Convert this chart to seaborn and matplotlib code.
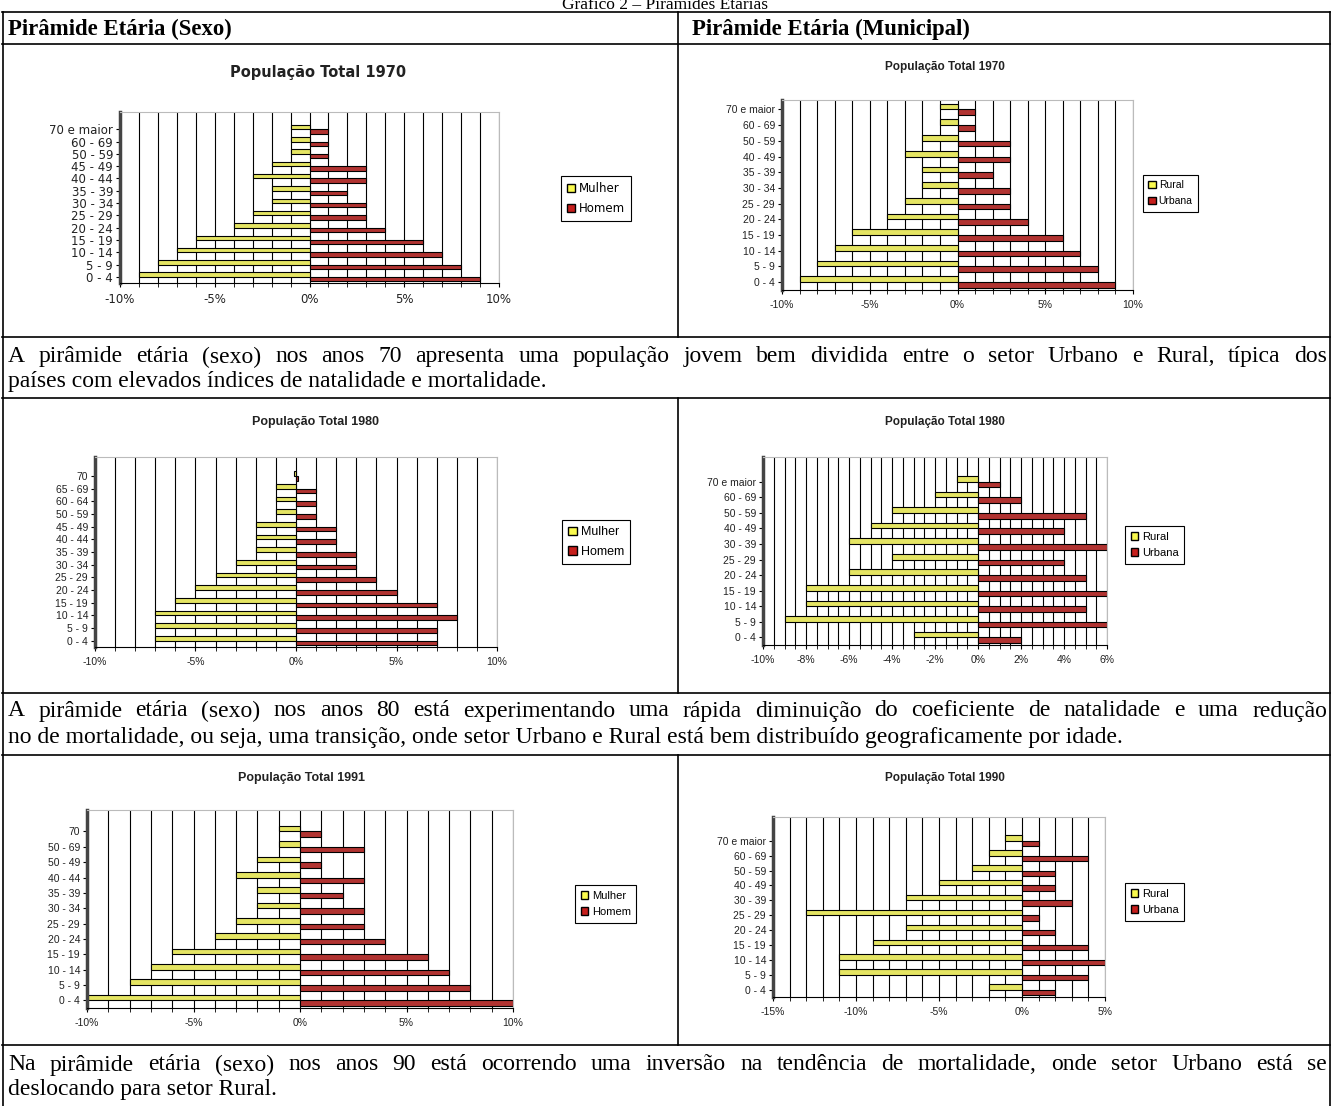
import numpy as np
import pandas as pd
import matplotlib
matplotlib.use('Agg')
import matplotlib.pyplot as plt
from matplotlib.patches import Patch
from matplotlib.lines import Line2D
import seaborn as sns

W, H = 1331, 1106

YELLOW = '#FAFA4E'
RED = '#C61F1C'

# ---- dados (de cima para baixo) ----
ages_sexo_70 = ['70 e maior', '60 - 69', '50 - 59', '45 - 49', '40 - 44', '35 - 39', '30 - 34',
                '25 - 29', '20 - 24', '15 - 19', '10 - 14', '5 - 9', '0 - 4']
mulher_70 = [-1, -1, -1, -2, -3, -2, -2, -3, -4, -6, -7, -8, -9]
homem_70 = [1, 1, 1, 3, 3, 2, 3, 3, 4, 6, 7, 8, 9]

ages_mun_70 = ['70 e maior', '60 - 69', '50 - 59', '40 - 49', '35 - 39', '30 - 34', '25 - 29',
               '20 - 24', '15 - 19', '10 - 14', '5 - 9', '0 - 4']
rural_70 = [-1, -1, -2, -3, -2, -2, -3, -4, -6, -7, -8, -9]
urbana_70 = [1, 1, 3, 3, 2, 3, 3, 4, 6, 7, 8, 9]

ages_sexo_80 = ['70', '65 - 69', '60 - 64', '50 - 59', '45 - 49', '40 - 44', '35 - 39', '30 - 34',
                '25 - 29', '20 - 24', '15 - 19', '10 - 14', '5 - 9', '0 - 4']
mulher_80 = [-0.1, -1, -1, -1, -2, -2, -2, -3, -4, -5, -6, -7, -7, -7]
homem_80 = [0.1, 1, 1, 1, 2, 2, 3, 3, 4, 5, 7, 8, 7, 7]

ages_mun_80 = ['70 e maior', '60 - 69', '50 - 59', '40 - 49', '30 - 39', '25 - 29', '20 - 24',
               '15 - 19', '10 - 14', '5 - 9', '0 - 4']
rural_80 = [-1, -2, -4, -5, -6, -4, -6, -8, -8, -9, -3]
urbana_80 = [1, 2, 5, 4, 6, 4, 5, 6, 5, 6, 2]

ages_sexo_91 = ['70', '50 - 69', '50 - 49', '40 - 44', '35 - 39', '30 - 34', '25 - 29', '20 - 24',
                '15 - 19', '10 - 14', '5 - 9', '0 - 4']
mulher_91 = [-1, -1, -2, -3, -2, -2, -3, -4, -6, -7, -8, -10]
homem_91 = [1, 3, 1, 3, 2, 3, 3, 4, 6, 7, 8, 10]

ages_mun_90 = ['70 e maior', '60 - 69', '50 - 59', '40 - 49', '30 - 39', '25 - 29', '20 - 24',
               '15 - 19', '10 - 14', '5 - 9', '0 - 4']
rural_90 = [-1, -2, -3, -5, -7, -13, -7, -9, -11, -11, -2]
urbana_90 = [1, 4, 2, 2, 3, 1, 2, 4, 5, 4, 2]

texto_70 = ['A pirâmide etária (sexo) nos anos 70 apresenta uma população jovem bem dividida entre o setor Urbano e Rural, típica dos',
            'países com elevados índices de natalidade e mortalidade.']
texto_80 = ['A pirâmide etária (sexo) nos anos 80 está experimentando uma rápida diminuição do coeficiente de natalidade e uma redução',
            'no de mortalidade, ou seja, uma transição, onde setor Urbano e Rural está bem distribuído geograficamente por idade.']
texto_90 = ['Na pirâmide etária (sexo) nos anos 90 está ocorrendo uma inversão na tendência de mortalidade, onde setor Urbano está se',
            'deslocando para setor Rural.']


def PxRect(x0, y0, x1, y1):
    return [x0 / W, 1 - y1 / H, (x1 - x0) / W, (y1 - y0) / H]


def HLine(fig, y, x0, x1, lw=1.2):
    fig.add_artist(Line2D([x0 / W, x1 / W], [1 - y / H, 1 - y / H], color='black', lw=lw))


def VLine(fig, x, y0, y1, lw=1.2):
    fig.add_artist(Line2D([x / W, x / W], [1 - y0 / H, 1 - y1 / H], color='black', lw=lw))


def DrawPyramid(fig, rect, ages, left_vals, right_vals, names, title, title_xy, xlim, majors,
                step, extra_top, legend_xy, family, tick_size, title_size, legend_size):
    df = pd.DataFrame({'Idade': ages + ages,
                       'Valor': left_vals + right_vals,
                       'Grupo': [names[0]] * len(ages) + [names[1]] * len(ages)})
    ax = fig.add_axes(PxRect(*rect))
    sns.barplot(data=df, x='Valor', y='Idade', hue='Grupo', order=ages, hue_order=names,
                palette=[YELLOW, RED], orient='h', width=0.72, edgecolor='black', linewidth=0.8,
                errorbar=None, legend=False, ax=ax)
    ax.set_ylim(len(ages) - 0.5, -0.5 - extra_top)
    ax.set_xlim(xlim)
    ax.set_xticks(majors)
    ax.set_xticklabels([str(v) + '%' for v in majors], family=family, fontsize=tick_size, color='#222222')
    ax.set_xticks(np.arange(xlim[0], xlim[1] + step / 2, step), minor=True)
    ax.grid(axis='x', which='both', color='black', lw=0.8)
    ax.set_axisbelow(True)
    ax.set_yticks(range(len(ages)))
    ax.set_yticklabels(ages, family=family, fontsize=tick_size, color='#222222')
    ax.tick_params(axis='y', length=3, pad=2)
    ax.tick_params(axis='x', which='both', length=3, pad=4)
    ax.set_xlabel('')
    ax.set_ylabel('')
    ax.spines['left'].set_linewidth(2.5)
    ax.spines['left'].set_color('#444444')
    ax.spines['bottom'].set_color('black')
    for s in ['top', 'right']:
        ax.spines[s].set_color('#BBBBBB')
        ax.spines[s].set_linewidth(0.8)

    fig.text(title_xy[0] / W, 1 - title_xy[1] / H, title, ha='center', va='center',
             family=family, fontsize=title_size, fontweight='bold', color='#222222')

    handles = [Patch(facecolor=YELLOW, edgecolor='black', label=names[0]),
               Patch(facecolor=RED, edgecolor='black', label=names[1])]
    leg = fig.legend(handles=handles, loc='upper left', bbox_to_anchor=(legend_xy[0] / W, 1 - legend_xy[1] / H),
                     frameon=True, fancybox=False, edgecolor='black', framealpha=1,
                     handlelength=0.7, handleheight=0.7, handletextpad=0.3, borderpad=0.5,
                     labelspacing=0.6, borderaxespad=0, prop={'family': family, 'size': legend_size})
    leg.get_frame().set_linewidth(0.8)
    return ax


def JustifiedLine(fig, text, x0, x1, y, size, justify=True):
    if not justify:
        fig.text(x0 / W, 1 - y / H, text, family='Liberation Serif', fontsize=size, va='center')
        return
    words = text.split(' ')
    renderer = fig.canvas.get_renderer()
    objs = [fig.text(0, 1 - y / H, w, family='Liberation Serif', fontsize=size, va='center') for w in words]
    widths = [o.get_window_extent(renderer).width for o in objs]
    gap = (x1 - x0 - sum(widths)) / (len(words) - 1)
    x = x0
    for o, w in zip(objs, widths):
        o.set_x(x / W)
        x += w + gap


fig = plt.figure(figsize=(W / 100, H / 100), dpi=100)
fig.patch.set_facecolor('white')

# titulo cortado no topo
fig.text(665 / W, 1 - 9 / H, 'Gráfico 2 – Pirâmides Etárias', ha='center', va='baseline',
         family='Liberation Serif', fontsize=12.5)

# tabela
for y in [12, 44, 337, 398, 693, 755, 1045]:
    HLine(fig, y, 2, 1330)
VLine(fig, 2.5, 12, 1106)
VLine(fig, 1329.5, 12, 1106)
for y0, y1 in [(12, 337), (398, 693), (755, 1045)]:
    VLine(fig, 678, y0, y1)

fig.text(8 / W, 1 - 29 / H, 'Pirâmide Etária (Sexo)', family='Liberation Serif', fontweight='bold',
         fontsize=16.4, va='center')
fig.text(692 / W, 1 - 29 / H, 'Pirâmide Etária (Municipal)', family='Liberation Serif', fontweight='bold',
         fontsize=16.4, va='center')

DrawPyramid(fig, (120, 112, 499, 283), ages_sexo_70, mulher_70, homem_70, ['Mulher', 'Homem'],
            'População Total 1970', (318, 72), (-10, 10), [-10, -5, 0, 5, 10], 1, 0.9,
            (561, 176), 'DejaVu Sans', 8.5, 10.5, 8.5)
DrawPyramid(fig, (782, 100, 1133, 290), ages_mun_70, rural_70, urbana_70, ['Rural', 'Urbana'],
            'População Total 1970', (945, 67), (-10, 10), [-10, -5, 0, 5, 10], 1, 0.1,
            (1143, 175), 'Liberation Sans', 7.5, 8.5, 7.5)
DrawPyramid(fig, (95, 457, 497, 647), ages_sexo_80, mulher_80, homem_80, ['Mulher', 'Homem'],
            'População Total 1980', (315, 422), (-10, 10), [-10, -5, 0, 5, 10], 1, 1.0,
            (562, 520), 'Liberation Sans', 7.5, 9, 9)
DrawPyramid(fig, (763, 457, 1107, 645), ages_mun_80, rural_80, urbana_80, ['Rural', 'Urbana'],
            'População Total 1980', (945, 422), (-10, 6), [-10, -8, -6, -4, -2, 0, 2, 4, 6], 0.5, 1.1,
            (1125, 526), 'Liberation Sans', 7.5, 8.5, 8)
DrawPyramid(fig, (87, 810, 513, 1008), ages_sexo_91, mulher_91, homem_91, ['Mulher', 'Homem'],
            'População Total 1991', (302, 778), (-10, 10), [-10, -5, 0, 5, 10], 1, 0.9,
            (575, 885), 'Liberation Sans', 7.5, 9, 8)
DrawPyramid(fig, (773, 817, 1105, 997), ages_mun_90, rural_90, urbana_90, ['Rural', 'Urbana'],
            'População Total 1990', (945, 778), (-15, 5), [-15, -10, -5, 0, 5], 1, 1.1,
            (1125, 883), 'Liberation Sans', 7.5, 8.5, 8)

# textos
for lines, (y1, y2) in [(texto_70, (357, 382)), (texto_80, (711, 737)), (texto_90, (1065, 1090))]:
    JustifiedLine(fig, lines[0], 8, 1327, y1, 17)
    JustifiedLine(fig, lines[1], 8, 1327, y2, 17, justify=False)

fig.savefig('out.png', dpi=100)
